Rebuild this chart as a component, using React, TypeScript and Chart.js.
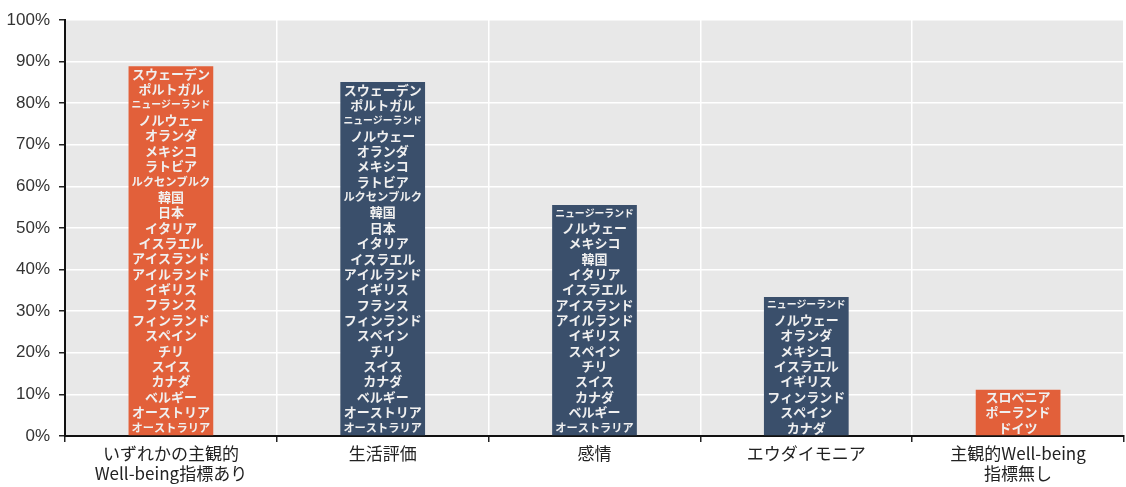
import React, { useEffect, useRef } from 'react';
import { Chart, registerables } from 'chart.js';

Chart.register(...registerables);

const categories: (string | string[])[] = [
  ['いずれかの主観的', 'Well-being指標あり'],
  '生活評価',
  '感情',
  'エウダイモニア',
  ['主観的Well-being', '指標無し'],
];

const shares = [88.9, 85.1, 55.5, 33.4, 11.1];

const barColors = ['#E2603A', '#3A4F6B', '#3A4F6B', '#3A4F6B', '#E2603A'];

const anyIndicator = [
  'スウェーデン', 'ポルトガル', 'ニュージーランド', 'ノルウェー', 'オランダ', 'メキシコ',
  'ラトビア', 'ルクセンブルク', '韓国', '日本', 'イタリア', 'イスラエル', 'アイスランド',
  'アイルランド', 'イギリス', 'フランス', 'フィンランド', 'スペイン', 'チリ', 'スイス',
  'カナダ', 'ベルギー', 'オーストリア', 'オーストラリア',
];

const lifeEvaluation = [
  'スウェーデン', 'ポルトガル', 'ニュージーランド', 'ノルウェー', 'オランダ', 'メキシコ',
  'ラトビア', 'ルクセンブルク', '韓国', '日本', 'イタリア', 'イスラエル', 'アイルランド',
  'イギリス', 'フランス', 'フィンランド', 'スペイン', 'チリ', 'スイス', 'カナダ',
  'ベルギー', 'オーストリア', 'オーストラリア',
];

const affect = [
  'ニュージーランド', 'ノルウェー', 'メキシコ', '韓国', 'イタリア', 'イスラエル',
  'アイスランド', 'アイルランド', 'イギリス', 'スペイン', 'チリ', 'スイス', 'カナダ',
  'ベルギー', 'オーストラリア',
];

const eudaimonia = [
  'ニュージーランド', 'ノルウェー', 'オランダ', 'メキシコ', 'イスラエル', 'イギリス',
  'フィンランド', 'スペイン', 'カナダ',
];

const noIndicator = ['スロベニア', 'ポーランド', 'ドイツ'];

const countryLists = [anyIndicator, lifeEvaluation, affect, eudaimonia, noIndicator];

const yTicks = [0, 10, 20, 30, 40, 50, 60, 70, 80, 90, 100];

const plotBg = {
  id: 'plotBg',
  beforeDraw(chart: any) {
    const { ctx, chartArea } = chart;
    ctx.save();
    ctx.fillStyle = '#E8E8E8';
    ctx.fillRect(chartArea.left, chartArea.top, chartArea.right - chartArea.left, chartArea.bottom - chartArea.top);
    ctx.restore();
  },
};

const countryLabels = {
  id: 'countryLabels',
  afterDatasetsDraw(chart: any) {
    const { ctx } = chart;
    const meta = chart.getDatasetMeta(0);
    meta.data.forEach((bar: any, i: number) => {
      const names = countryLists[i] || [];
      const n = names.length;
      if (!n) return;
      const top = bar.y;
      const bottom = bar.base;
      const step = (bottom - top) / n;
      const maxW = bar.width - 6;
      ctx.save();
      ctx.fillStyle = '#F0F0F0';
      ctx.textAlign = 'center';
      ctx.textBaseline = 'middle';
      names.forEach((name: string, k: number) => {
        let size = 13;
        ctx.font = `bold ${size}px "Noto Sans CJK JP", sans-serif`;
        const w = ctx.measureText(name).width;
        if (w > maxW) {
          size = Math.max(8, (size * maxW) / w);
          ctx.font = `bold ${size}px "Noto Sans CJK JP", sans-serif`;
        }
        ctx.fillText(name, bar.x, top + step * (k + 0.5));
      });
      ctx.restore();
    });
  },
};

export default function App() {
  const ref = useRef<HTMLCanvasElement>(null);
  useEffect(() => {
    document.body.style.margin = '0';
    const chart = new Chart(ref.current as HTMLCanvasElement, {
      type: 'bar',
      data: {
        labels: categories as any,
        datasets: [
          {
            data: shares,
            backgroundColor: barColors,
            borderWidth: 0,
            barPercentage: 0.4,
            categoryPercentage: 1,
          },
        ],
      },
      options: {
        responsive: false,
        animation: false,
        layout: { padding: { top: 20, left: 0, right: 2, bottom: 0 } },
        plugins: {
          legend: { display: false },
          tooltip: { enabled: false },
        },
        scales: {
          x: {
            grid: {
              offset: true,
              color: '#FFFFFF',
              lineWidth: 1.5,
              drawTicks: true,
              tickLength: 6,
              tickColor: '#222',
            },
            border: { color: '#111', width: 2 },
            ticks: {
              color: '#222',
              font: { family: '"Noto Sans CJK JP", sans-serif', size: 17, lineHeight: 1.15 },
              padding: 2,
              maxRotation: 0,
              autoSkip: false,
            },
            afterFit(scale: any) {
              scale.height = 51;
            },
          },
          y: {
            min: 0,
            max: 100,
            afterBuildTicks(scale: any) {
              scale.ticks = yTicks.map((v) => ({ value: v }));
            },
            grid: {
              color: '#FFFFFF',
              lineWidth: 1.5,
              drawTicks: true,
              tickLength: 6,
              tickColor: '#222',
            },
            border: { color: '#111', width: 2 },
            ticks: {
              color: '#333',
              font: { family: '"Liberation Sans Narrow", "Liberation Sans", sans-serif', size: 17 },
              padding: 9,
              callback: (v: any) => `${v}%`,
            },
            afterFit(scale: any) {
              scale.width = 65;
            },
          },
        },
      },
      plugins: [plotBg, countryLabels],
    });
    return () => chart.destroy();
  }, []);
  return <canvas ref={ref} width={1126} height={487} />;
}
